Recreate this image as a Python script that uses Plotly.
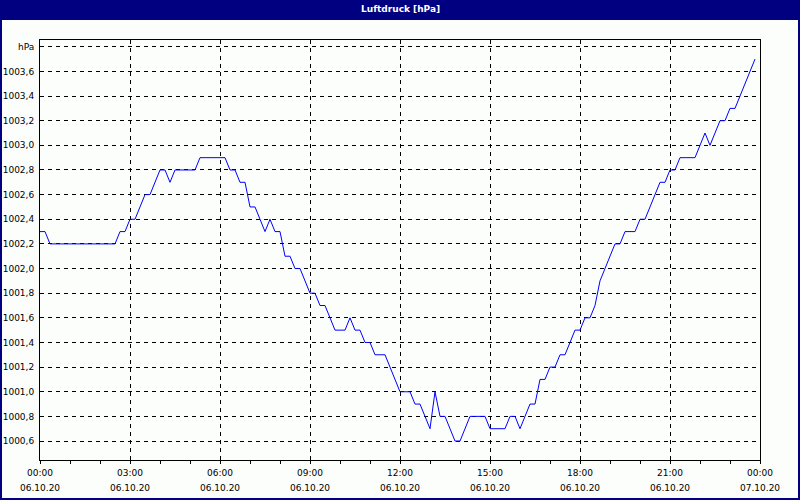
import pandas as pd
import plotly.graph_objects as go

# ---- data (10-minute samples, 06.10.20 00:00 .. 23:50) ----
start_time = "2020-10-06 00:00"
sample_minutes = 10
pressure_hpa = [
    1002.3, 1002.3, 1002.2, 1002.2, 1002.2, 1002.2, 1002.2, 1002.2, 1002.2, 1002.2,
    1002.2, 1002.2, 1002.2, 1002.2, 1002.2, 1002.2, 1002.3, 1002.3, 1002.4, 1002.4,
    1002.5, 1002.6, 1002.6, 1002.7, 1002.8, 1002.8, 1002.7, 1002.8, 1002.8, 1002.8,
    1002.8, 1002.8, 1002.9, 1002.9, 1002.9, 1002.9, 1002.9, 1002.9, 1002.8, 1002.8,
    1002.7, 1002.7, 1002.5, 1002.5, 1002.4, 1002.3, 1002.4, 1002.3, 1002.3, 1002.1,
    1002.1, 1002.0, 1002.0, 1001.9, 1001.8, 1001.8, 1001.7, 1001.7, 1001.6, 1001.5,
    1001.5, 1001.5, 1001.6, 1001.5, 1001.5, 1001.4, 1001.4, 1001.3, 1001.3, 1001.3,
    1001.2, 1001.1, 1001.0, 1001.0, 1001.0, 1000.9, 1000.9, 1000.8, 1000.7, 1001.0,
    1000.8, 1000.8, 1000.7, 1000.6, 1000.6, 1000.7, 1000.8, 1000.8, 1000.8, 1000.8,
    1000.7, 1000.7, 1000.7, 1000.7, 1000.8, 1000.8, 1000.7, 1000.8, 1000.9, 1000.9,
    1001.1, 1001.1, 1001.2, 1001.2, 1001.3, 1001.3, 1001.4, 1001.5, 1001.5, 1001.6,
    1001.6, 1001.7, 1001.9, 1002.0, 1002.1, 1002.2, 1002.2, 1002.3, 1002.3, 1002.3,
    1002.4, 1002.4, 1002.5, 1002.6, 1002.7, 1002.7, 1002.8, 1002.8, 1002.9, 1002.9,
    1002.9, 1002.9, 1003.0, 1003.1, 1003.0, 1003.1, 1003.2, 1003.2, 1003.3, 1003.3,
    1003.4, 1003.5, 1003.6, 1003.7,
]

x_tick_times = ["2020-10-06 00:00", "2020-10-06 03:00", "2020-10-06 06:00",
                "2020-10-06 09:00", "2020-10-06 12:00", "2020-10-06 15:00",
                "2020-10-06 18:00", "2020-10-06 21:00", "2020-10-07 00:00"]
x_tick_hours = ["00:00", "03:00", "06:00", "09:00", "12:00", "15:00", "18:00", "21:00", "00:00"]
x_tick_dates = ["06.10.20"] * 8 + ["07.10.20"]

y_tick_vals = [1000.6, 1000.8, 1001.0, 1001.2, 1001.4, 1001.6, 1001.8, 1002.0,
               1002.2, 1002.4, 1002.6, 1002.8, 1003.0, 1003.2, 1003.4, 1003.6, 1003.8]
y_tick_text = ["1000,6", "1000,8", "1001,0", "1001,2", "1001,4", "1001,6", "1001,8", "1002,0",
               "1002,2", "1002,4", "1002,6", "1002,8", "1003,0", "1003,2", "1003,4", "1003,6", "hPa"]

title_text = "Luftdruck [hPa]"

# ---- figure ----
times = pd.date_range(start_time, periods=len(pressure_hpa), freq=f"{sample_minutes}min")

FONT = "DejaVu Sans"
FS = 9
NAVY = "#000080"
BG = "#FCFEFC"

fig = go.Figure()
fig.add_trace(go.Scatter(x=times, y=pressure_hpa, mode="lines",
                         line=dict(color="#0000FF", width=1), hoverinfo="skip"))

fig.update_layout(
    width=800, height=500, autosize=False,
    margin=dict(l=40, r=40, t=40, b=40, autoexpand=False),
    paper_bgcolor=BG, plot_bgcolor=BG,
    showlegend=False,
    font=dict(family=FONT, size=FS, color="#000000"),
)

fig.update_xaxes(
    type="date", automargin=False,
    range=[x_tick_times[0], x_tick_times[-1]],
    tickmode="array", tickvals=x_tick_times, ticktext=x_tick_hours,
    ticks="outside", ticklen=3, tickcolor="black", tickwidth=1,
    minor=dict(dtick=3600000, ticks="outside", ticklen=3, tickcolor="black", showgrid=False),
    showgrid=True, gridcolor="black", gridwidth=1, griddash="4px,4px",
    showline=True, linecolor="black", linewidth=1, mirror=True,
    zeroline=False, ticklabelstandoff=1,
    tickfont=dict(family=FONT, size=FS, color="#000000"),
)

fig.update_yaxes(
    automargin=False,
    range=[1000.446, 1003.855],
    tickmode="array", tickvals=y_tick_vals, ticktext=y_tick_text,
    ticks="",
    showgrid=True, gridcolor="black", gridwidth=1, griddash="4px,4px",
    showline=True, linecolor="black", linewidth=1, mirror=True,
    zeroline=False, ticklabelstandoff=3,
    tickfont=dict(family=FONT, size=FS, color="#000000"),
)

# date line under each time label
for t, d in zip(x_tick_times, x_tick_dates):
    fig.add_annotation(x=t, xref="x", y=-0.0667, yref="paper", text=d,
                       showarrow=False, xanchor="center", yanchor="middle",
                       font=dict(family=FONT, size=FS, color="#000000"))

# title bar
fig.add_shape(type="rect", xref="paper", yref="paper",
              x0=-40 / 720, x1=760 / 720, y0=440 / 420, y1=460 / 420,
              fillcolor=NAVY, line=dict(width=0), layer="above")
fig.add_annotation(x=0.5, xref="paper", y=451 / 420, yref="paper", text="<b>" + title_text + "</b>",
                   showarrow=False, xanchor="center", yanchor="middle",
                   font=dict(family=FONT, size=FS, color="#FFFFFF"))
# window border
fig.add_shape(type="rect", xref="paper", yref="paper",
              x0=-39 / 720, x1=759 / 720, y0=-39 / 420, y1=459 / 420,
              fillcolor="rgba(0,0,0,0)", line=dict(color=NAVY, width=2), layer="above")

fig.write_html(
    "out.html",
    config={"responsive": False, "displayModeBar": False},
    post_script="document.body.style.margin='0px';document.body.style.padding='0px';document.body.style.overflow='hidden';",
)
